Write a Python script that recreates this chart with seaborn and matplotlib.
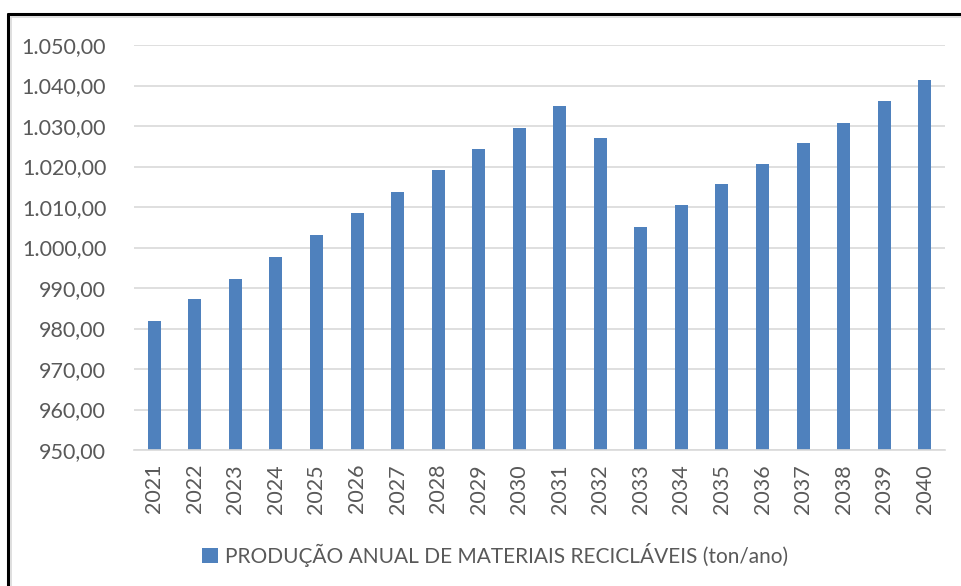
import matplotlib
matplotlib.use("Agg")
import matplotlib.pyplot as plt
from matplotlib.lines import Line2D
from matplotlib.ticker import FuncFormatter, MultipleLocator
import seaborn as sns
import pandas as pd

years = [str(y) for y in range(2021, 2041)]
valores = [981.8, 987.2, 992.2, 997.6, 1003.0, 1008.4, 1013.7, 1019.1, 1024.2, 1029.6,
           1034.9, 1027.0, 1005.1, 1010.6, 1015.7, 1020.7, 1025.7, 1030.8, 1036.2, 1041.3]
serie = "PRODUÇÃO ANUAL DE MATERIAIS RECICLÁVEIS (ton/ano)"

df = pd.DataFrame({"ano": years, "valor": valores})

sns.set_theme(style="white")
plt.rcParams['font.family'] = ['Lato', 'DejaVu Sans']

W, H = 961, 586
fig = plt.figure(figsize=(W / 100, H / 100), dpi=100)
ax = fig.add_axes([134 / W, 1 - 450 / H, (945 - 134) / W, (450 - 45) / H])

sns.barplot(data=df, x="ano", y="valor", color="#4F81BD", width=0.32, ax=ax,
            label=serie, saturation=1, edgecolor="#4F81BD", linewidth=0)

ax.set_ylim(950, 1050)
ax.set_xlim(-0.5, len(years) - 0.5)
ax.yaxis.set_major_locator(MultipleLocator(10))

def br(v, pos):
    s = f"{v:,.2f}"
    return s.replace(",", "X").replace(".", ",").replace("X", ".")

ax.yaxis.set_major_formatter(FuncFormatter(br))
ax.grid(axis="y", color="#D9D9D9", linewidth=1.2)
ax.set_axisbelow(True)
for side in ["top", "right", "left"]:
    ax.spines[side].set_visible(False)
ax.spines["bottom"].set_color("#D9D9D9")
ax.spines["bottom"].set_linewidth(1.2)
ax.set_xlabel("")
ax.set_ylabel("")
ax.tick_params(axis="y", labelsize=15.5, colors="#595959", length=0, pad=20)
ax.tick_params(axis="x", labelsize=15.5, colors="#595959", length=0, pad=10, labelrotation=90)

if ax.get_legend() is not None:
    ax.get_legend().remove()
handles, labels = ax.get_legend_handles_labels()
fig.legend(handles, labels, loc="center", bbox_to_anchor=(495 / W, 1 - 555 / H),
           frameon=False, fontsize=15, labelcolor="#595959",
           handlelength=0.75, handleheight=0.75, handletextpad=0.35)

# outer frame (left and top edges visible)
fig.add_artist(Line2D([7.5 / W, 7.5 / W], [0, 1 - 14 / H], transform=fig.transFigure,
                      color="black", linewidth=2.2))
fig.add_artist(Line2D([7.5 / W, 1], [1 - 14 / H, 1 - 14 / H], transform=fig.transFigure,
                      color="black", linewidth=2.2))
fig.add_artist(Line2D([10.5 / W, 10.5 / W], [0, 1 - 16.5 / H], transform=fig.transFigure,
                      color="#D9D9D9", linewidth=1.2))
fig.add_artist(Line2D([10.5 / W, 1], [1 - 16.5 / H, 1 - 16.5 / H], transform=fig.transFigure,
                      color="#D9D9D9", linewidth=1.2))

fig.savefig("out.png", dpi=100)
